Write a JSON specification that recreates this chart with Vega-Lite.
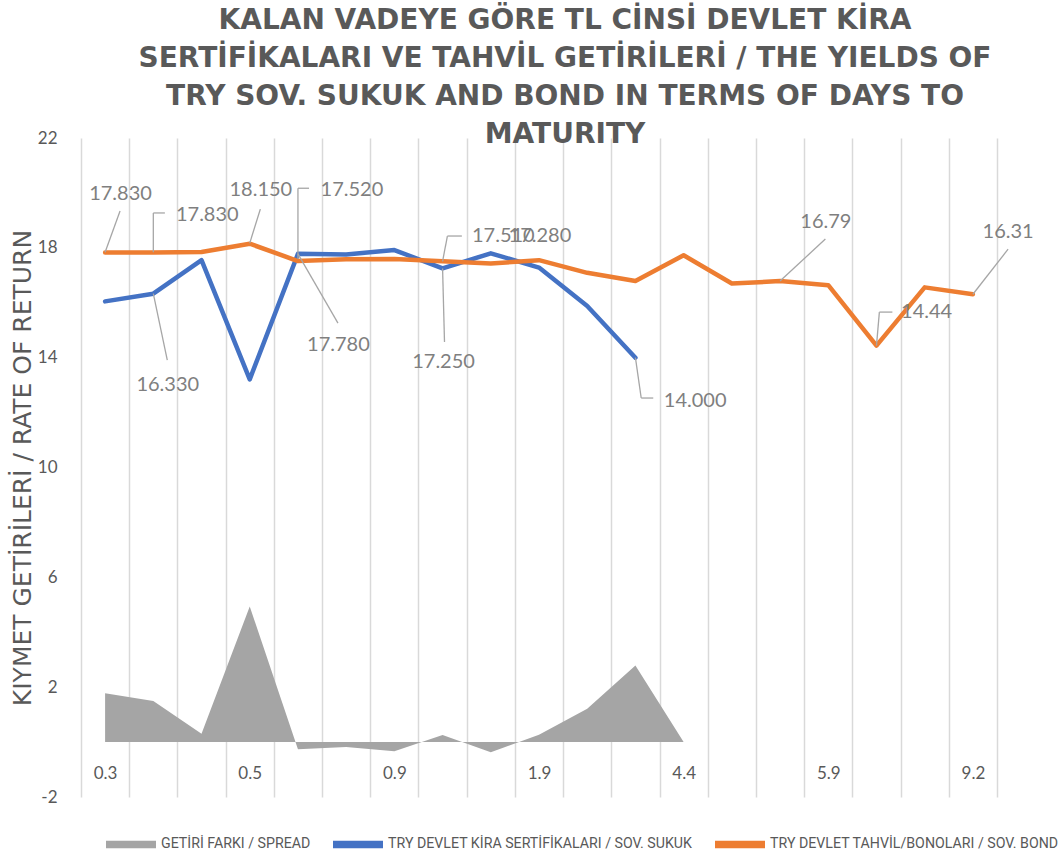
{
  "$schema": "https://vega.github.io/schema/vega-lite/v6.json",
  "width": 916,
  "height": 659,
  "autosize": "none",
  "padding": {"left": 81, "top": 138, "right": 64, "bottom": 57},
  "background": "white",
  "config": {"view": {"stroke": null}, "font": "Lato"},
  "title": {
    "text": ["KALAN VADEYE GÖRE TL CİNSİ DEVLET KİRA", "SERTİFİKALARI VE TAHVİL GETİRİLERİ / THE YIELDS OF", "TRY SOV. SUKUK AND BOND IN TERMS OF DAYS TO", "MATURITY"],
    "font": "DejaVu Sans",
    "fontSize": 28,
    "fontWeight": "bold",
    "color": "#595959",
    "lineHeight": 38,
    "offset": -42,
    "dx": 26,
    "anchor": "middle",
    "baseline": "alphabetic"
  },
  "datasets": {
    "main": [
      {"idx": 0, "series": "GETİRİ FARKI / SPREAD", "value": 1.78},
      {"idx": 1, "series": "GETİRİ FARKI / SPREAD", "value": 1.50},
      {"idx": 2, "series": "GETİRİ FARKI / SPREAD", "value": 0.30},
      {"idx": 3, "series": "GETİRİ FARKI / SPREAD", "value": 4.94},
      {"idx": 4, "series": "GETİRİ FARKI / SPREAD", "value": -0.26},
      {"idx": 5, "series": "GETİRİ FARKI / SPREAD", "value": -0.18},
      {"idx": 6, "series": "GETİRİ FARKI / SPREAD", "value": -0.33},
      {"idx": 7, "series": "GETİRİ FARKI / SPREAD", "value": 0.26},
      {"idx": 8, "series": "GETİRİ FARKI / SPREAD", "value": -0.37},
      {"idx": 9, "series": "GETİRİ FARKI / SPREAD", "value": 0.27},
      {"idx": 10, "series": "GETİRİ FARKI / SPREAD", "value": 1.21},
      {"idx": 11, "series": "GETİRİ FARKI / SPREAD", "value": 2.79},
      {"idx": 12, "series": "GETİRİ FARKI / SPREAD", "value": 0},
      {"idx": 0, "series": "TRY DEVLET KİRA SERTİFİKALARI / SOV. SUKUK", "value": 16.05},
      {"idx": 1, "series": "TRY DEVLET KİRA SERTİFİKALARI / SOV. SUKUK", "value": 16.33},
      {"idx": 2, "series": "TRY DEVLET KİRA SERTİFİKALARI / SOV. SUKUK", "value": 17.55},
      {"idx": 3, "series": "TRY DEVLET KİRA SERTİFİKALARI / SOV. SUKUK", "value": 13.21},
      {"idx": 4, "series": "TRY DEVLET KİRA SERTİFİKALARI / SOV. SUKUK", "value": 17.78},
      {"idx": 5, "series": "TRY DEVLET KİRA SERTİFİKALARI / SOV. SUKUK", "value": 17.76},
      {"idx": 6, "series": "TRY DEVLET KİRA SERTİFİKALARI / SOV. SUKUK", "value": 17.92},
      {"idx": 7, "series": "TRY DEVLET KİRA SERTİFİKALARI / SOV. SUKUK", "value": 17.25},
      {"idx": 8, "series": "TRY DEVLET KİRA SERTİFİKALARI / SOV. SUKUK", "value": 17.80},
      {"idx": 9, "series": "TRY DEVLET KİRA SERTİFİKALARI / SOV. SUKUK", "value": 17.28},
      {"idx": 10, "series": "TRY DEVLET KİRA SERTİFİKALARI / SOV. SUKUK", "value": 15.88},
      {"idx": 11, "series": "TRY DEVLET KİRA SERTİFİKALARI / SOV. SUKUK", "value": 14.00},
      {"idx": 0, "series": "TRY DEVLET TAHVİL/BONOLARI / SOV. BOND", "value": 17.83},
      {"idx": 1, "series": "TRY DEVLET TAHVİL/BONOLARI / SOV. BOND", "value": 17.83},
      {"idx": 2, "series": "TRY DEVLET TAHVİL/BONOLARI / SOV. BOND", "value": 17.85},
      {"idx": 3, "series": "TRY DEVLET TAHVİL/BONOLARI / SOV. BOND", "value": 18.15},
      {"idx": 4, "series": "TRY DEVLET TAHVİL/BONOLARI / SOV. BOND", "value": 17.52},
      {"idx": 5, "series": "TRY DEVLET TAHVİL/BONOLARI / SOV. BOND", "value": 17.58},
      {"idx": 6, "series": "TRY DEVLET TAHVİL/BONOLARI / SOV. BOND", "value": 17.59},
      {"idx": 7, "series": "TRY DEVLET TAHVİL/BONOLARI / SOV. BOND", "value": 17.51},
      {"idx": 8, "series": "TRY DEVLET TAHVİL/BONOLARI / SOV. BOND", "value": 17.43},
      {"idx": 9, "series": "TRY DEVLET TAHVİL/BONOLARI / SOV. BOND", "value": 17.55},
      {"idx": 10, "series": "TRY DEVLET TAHVİL/BONOLARI / SOV. BOND", "value": 17.09},
      {"idx": 11, "series": "TRY DEVLET TAHVİL/BONOLARI / SOV. BOND", "value": 16.79},
      {"idx": 12, "series": "TRY DEVLET TAHVİL/BONOLARI / SOV. BOND", "value": 17.73},
      {"idx": 13, "series": "TRY DEVLET TAHVİL/BONOLARI / SOV. BOND", "value": 16.70},
      {"idx": 14, "series": "TRY DEVLET TAHVİL/BONOLARI / SOV. BOND", "value": 16.79},
      {"idx": 15, "series": "TRY DEVLET TAHVİL/BONOLARI / SOV. BOND", "value": 16.64},
      {"idx": 16, "series": "TRY DEVLET TAHVİL/BONOLARI / SOV. BOND", "value": 14.44},
      {"idx": 17, "series": "TRY DEVLET TAHVİL/BONOLARI / SOV. BOND", "value": 16.56},
      {"idx": 18, "series": "TRY DEVLET TAHVİL/BONOLARI / SOV. BOND", "value": 16.31}
    ],
    "labels": [
      {"text": "17.830", "x": 0.32, "y": 19.96},
      {"text": "17.830", "x": 2.12, "y": 19.19},
      {"text": "18.150", "x": 3.23, "y": 20.10},
      {"text": "17.520", "x": 5.12, "y": 20.10},
      {"text": "17.780", "x": 4.84, "y": 14.46},
      {"text": "16.330", "x": 1.30, "y": 13.00},
      {"text": "17.250", "x": 7.02, "y": 13.84},
      {"text": "17.510", "x": 8.26, "y": 18.43},
      {"text": "17.280", "x": 9.02, "y": 18.43},
      {"text": "14.000", "x": 12.24, "y": 12.42},
      {"text": "16.79", "x": 14.95, "y": 18.94},
      {"text": "14.44", "x": 17.04, "y": 15.66},
      {"text": "16.31", "x": 18.73, "y": 18.57}
    ],
    "leaders": [
      {"x": 0, "y": 17.84, "x2": 0.31, "y2": 19.34},
      {"x": 1, "y": 17.84, "x2": 1, "y2": 19.27},
      {"x": 1, "y": 19.27, "x2": 1.24, "y2": 19.27},
      {"x": 3, "y": 18.17, "x2": 3.22, "y2": 19.41},
      {"x": 4, "y": 17.6, "x2": 4, "y2": 20.17},
      {"x": 4, "y": 20.17, "x2": 4.23, "y2": 20.17},
      {"x": 4, "y": 17.78, "x2": 4.83, "y2": 15.26},
      {"x": 1, "y": 16.33, "x2": 1.29, "y2": 13.91},
      {"x": 7, "y": 17.25, "x2": 7.04, "y2": 14.57},
      {"x": 7, "y": 17.51, "x2": 7.1, "y2": 18.43},
      {"x": 7.1, "y": 18.43, "x2": 7.4, "y2": 18.43},
      {"x": 11, "y": 14.0, "x2": 11.12, "y2": 12.53},
      {"x": 11.12, "y": 12.53, "x2": 11.37, "y2": 12.53},
      {"x": 14, "y": 16.79, "x2": 14.94, "y2": 18.32},
      {"x": 16, "y": 14.44, "x2": 16.06, "y2": 15.66},
      {"x": 16.06, "y": 15.66, "x2": 16.33, "y2": 15.66},
      {"x": 18, "y": 16.31, "x2": 18.73, "y2": 17.95}
    ]
  },
  "layer": [
    {
      "data": {"name": "main"},
      "transform": [{"filter": "datum.series === 'GETİRİ FARKI / SPREAD'"}],
      "mark": {"type": "area", "opacity": 1},
      "encoding": {
        "x": {
          "field": "idx",
          "type": "quantitative",
          "scale": {"domain": [-0.5, 18.5], "nice": false, "zero": false},
          "axis": {
            "title": null,
            "values": [-0.5, 0.5, 1.5, 2.5, 3.5, 4.5, 5.5, 6.5, 7.5, 8.5, 9.5, 10.5, 11.5, 12.5, 13.5, 14.5, 15.5, 16.5, 17.5, 18.5],
            "labelExpr": "(datum.value + 0.5) % 3 === 0 ? ['0.3','0.5','0.9','1.9','4.4','5.9','9.2'][(datum.value + 0.5) / 3] : ''",
            "labelOffset": 24.1,
            "grid": true,
            "gridColor": "#d9d9d9",
            "gridWidth": 1.5,
            "domain": false,
            "ticks": false,
            "labelFontSize": 17,
            "labelFont": "Lato",
            "labelColor": "#595959",
            "labelPadding": -32,
            "labelOverlap": false,
            "labelFlush": false,
            "labelBound": false
          }
        },
        "y": {
          "field": "value",
          "type": "quantitative",
          "stack": null,
          "scale": {"domain": [-2, 22], "nice": false, "zero": false},
          "axis": {
            "values": [-2, 2, 6, 10, 14, 18, 22],
            "labelExpr": "'' + datum.value",
            "title": "KIYMET GETİRİLERİ / RATE OF RETURN",
            "grid": false,
            "domain": false,
            "ticks": false,
            "labelFontSize": 17,
            "labelFont": "Lato",
            "labelColor": "#595959",
            "labelPadding": 24,
            "titleFont": "DejaVu Sans",
            "titleFontSize": 25,
            "titleFontWeight": "normal",
            "titleColor": "#595959",
            "titlePadding": 2
          }
        },
        "color": {
          "field": "series",
          "type": "nominal",
          "scale": {
            "domain": ["GETİRİ FARKI / SPREAD", "TRY DEVLET KİRA SERTİFİKALARI / SOV. SUKUK", "TRY DEVLET TAHVİL/BONOLARI / SOV. BOND"],
            "range": ["#a5a5a5", "#4472c4", "#ed7d31"]
          },
          "legend": {
            "title": null,
            "orient": "none",
            "legendX": 25,
            "legendY": 681,
            "direction": "horizontal",
            "symbolType": "M-1,-0.15H1V0.15H-1Z",
            "symbolSize": 2500,
            "symbolStrokeWidth": 0,
            "labelFont": "Roboto",
            "labelFontSize": 14.2,
            "labelColor": "#595959",
            "labelLimit": 600,
            "labelOffset": 5,
            "columnPadding": 22,
            "encode": {"symbols": {"update": {"fill": {"scale": "color", "field": "value"}, "opacity": {"value": 1}}}}
          }
        }
      }
    },
    {
      "mark": {"type": "rule", "color": "#d9d9d9", "strokeWidth": 1.5},
      "encoding": {"y": {"datum": 0}}
    },
    {
      "data": {"name": "main"},
      "transform": [{"filter": "datum.series !== 'GETİRİ FARKI / SPREAD'"}],
      "mark": {"type": "line", "strokeWidth": 4.5, "strokeJoin": "round", "strokeCap": "round"},
      "encoding": {
        "x": {"field": "idx", "type": "quantitative"},
        "y": {"field": "value", "type": "quantitative"},
        "color": {"field": "series", "type": "nominal"}
      }
    },
    {
      "data": {"name": "leaders"},
      "mark": {"type": "rule", "color": "#a6a6a6", "strokeWidth": 1.3},
      "encoding": {
        "x": {"field": "x", "type": "quantitative"},
        "x2": {"field": "x2"},
        "y": {"field": "y", "type": "quantitative"},
        "y2": {"field": "y2"}
      }
    },
    {
      "data": {"name": "labels"},
      "mark": {"type": "text", "font": "Lato", "fontSize": 20, "color": "#7f7f7f", "align": "center", "baseline": "middle"},
      "encoding": {
        "x": {"field": "x", "type": "quantitative"},
        "y": {"field": "y", "type": "quantitative"},
        "text": {"field": "text"}
      }
    }
  ]
}
